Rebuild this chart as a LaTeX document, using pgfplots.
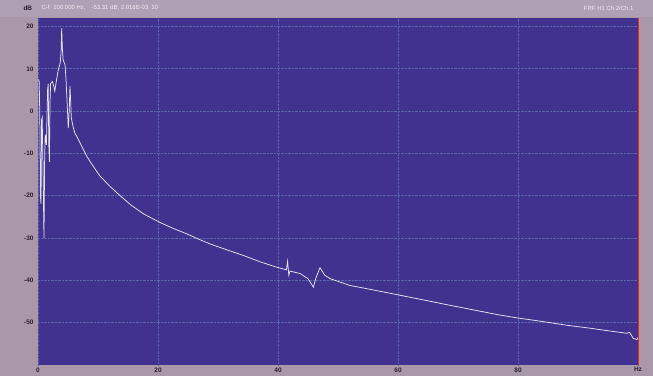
\documentclass[border=0pt]{standalone}
\usepackage{pgfplots}
\pgfplotsset{compat=1.18}
\usepackage{fontspec}
\setmainfont{Liberation Sans}
\definecolor{frame}{RGB}{168,152,170}
\definecolor{strip}{RGB}{176,160,182}
\definecolor{plotbg}{RGB}{66,50,144}
\definecolor{gridc}{RGB}{92,100,172}
\definecolor{tracec}{RGB}{232,228,245}
\definecolor{ticktext}{RGB}{40,30,50}
\begin{document}
\begin{tikzpicture}[x=1bp,y=1bp]
\fill[frame] (0,0) rectangle (653,376);
\fill[strip] (0,359) rectangle (653,376);
\begin{axis}[
  at={(38bp,11bp)}, anchor=south west,
  scale only axis, width=600bp, height=347bp,
  xmin=0, xmax=100, ymin=-60, ymax=22,
  axis background/.style={fill=plotbg},
  axis line style={draw=none},
  xtick={0,20,40,60,80,100}, xticklabels={0,20,40,60,80,Hz},
  ytick={-50,-40,-30,-20,-10,0,10,20},
  major tick length=0pt,
  /pgf/number format/assume math mode=true,
  tick label style={font=\fontsize{6.5}{7.5}\selectfont\bfseries, text=ticktext},
  xticklabel style={yshift=1bp},
  yticklabel style={xshift=-1bp},
  grid=major,
  major grid style={gridc, densely dotted, line width=0.6pt},
  clip=true,
]
\addplot[tracec, line width=0.75pt] coordinates {
(0.1,7.5) (0.2,7) (0.3,-1) (0.4,-20) (0.5,-22) (0.6,-2) (0.7,-1.5) (0.85,-15) (1.0,-30) (1.1,-12) (1.2,-5.5) (1.4,-8) (1.6,5) (1.7,6.5) (1.8,-8) (1.9,-12) (2.0,2) (2.1,6.5) (2.4,7) (2.6,6) (2.8,4.7) (3.1,7.5) (3.4,9.9) (3.7,11.3) (3.85,14) (3.95,19.6) (4.05,15) (4.2,12) (4.5,11) (4.65,8) (4.85,2) (5.05,-4) (5.2,0) (5.33,5.9) (5.45,2) (5.55,-1.6) (5.9,-4) (6.2,-5.4) (6.45,-5.9) (7,-7.5) (8.1,-10.6) (9,-12.6) (10.3,-15.3) (12,-17.8) (13.7,-20) (15.5,-22.2) (17.6,-24.3) (20.3,-26.3) (22.5,-27.7) (24.8,-29) (26.5,-30.1) (28.7,-31.4) (31.5,-32.8) (34.2,-34.1) (37,-35.6) (39.8,-36.9) (41.4,-37.5) (41.6,-35.5) (41.8,-38.8) (42,-37.8) (43.7,-38.4) (45,-39.6) (45.9,-41.6) (46.3,-39.5) (47,-37) (47.8,-38.8) (48.7,-39.6) (52,-41.2) (56,-42.3) (60.3,-43.5) (64.5,-44.7) (68.7,-45.9) (73,-47.1) (77,-48.2) (80,-48.9) (84,-49.7) (88.1,-50.6) (92,-51.3) (95,-51.9) (98.1,-52.5) (98.6,-52.3) (99.2,-53.7) (99.8,-54.0) (100,-53.5)
};
\end{axis}
\draw[red!70!orange, line width=1pt] (638.5,11) -- (638.5,358);
\node[anchor=west, text=ticktext, font=\fontsize{6.5}{7.5}\selectfont\bfseries] at (20,368) {dB};
\node[anchor=west, text=white!92!violet, font=\fontsize{6}{7}\selectfont] at (38,368) {C-f: 100.000 Hz,\quad -53.31 dB, 2.016E-03\enspace 10};
\node[anchor=east, text=white!92!violet, font=\fontsize{6}{7}\selectfont] at (637,368) {FRF H1 Ch.2/Ch.1};
\end{tikzpicture}
\end{document}
